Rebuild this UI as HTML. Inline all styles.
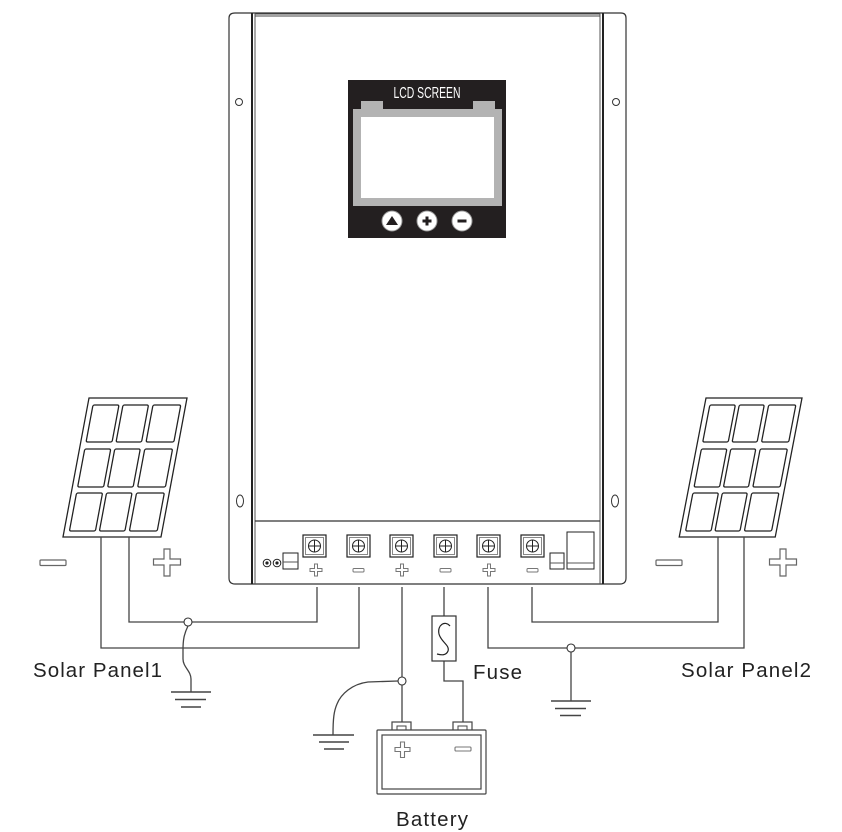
<!DOCTYPE html>
<html>
<head>
<meta charset="utf-8">
<style>
  html,body{margin:0;padding:0;background:#fff;}
  svg{display:block;}
  .t{font-family:"Liberation Sans",Arial,sans-serif;fill:#222;}
</style>
</head>
<body>
<svg width="842" height="832" viewBox="0 0 842 832" xmlns="http://www.w3.org/2000/svg">
  <rect width="842" height="832" fill="#fff"/>

  <!-- Controller body -->
  <path d="M235,13 H621 Q626,13 626,18 V578 Q626,584 620,584 H235 Q229,584 229,578 V18 Q229,13 235,13 Z" fill="#fff" stroke="#333" stroke-width="1.2"/>
  <line x1="252" y1="13" x2="252" y2="584" stroke="#222" stroke-width="2"/>
  <line x1="255" y1="13" x2="255" y2="584" stroke="#555" stroke-width="1"/>
  <line x1="600" y1="13" x2="600" y2="584" stroke="#555" stroke-width="1"/>
  <line x1="603" y1="13" x2="603" y2="584" stroke="#222" stroke-width="2"/>
  <line x1="255" y1="14" x2="600" y2="14" stroke="#444" stroke-width="1"/>
  <line x1="255" y1="16" x2="600" y2="16" stroke="#444" stroke-width="1"/>
  <line x1="255" y1="521" x2="600" y2="521" stroke="#333" stroke-width="1.2"/>

  <!-- mounting holes -->
  <circle cx="239" cy="102" r="3.5" fill="#fff" stroke="#333" stroke-width="1"/>
  <circle cx="616" cy="102" r="3.5" fill="#fff" stroke="#333" stroke-width="1"/>
  <ellipse cx="240" cy="501" rx="3.5" ry="6" fill="#fff" stroke="#333" stroke-width="1"/>
  <ellipse cx="615" cy="501" rx="3.5" ry="6" fill="#fff" stroke="#333" stroke-width="1"/>

  <!-- LCD -->
  <rect x="348" y="80" width="158" height="158" fill="#231f20"/>
  <text x="427" y="98" text-anchor="middle" font-family="Liberation Sans, sans-serif" font-size="16" fill="#fff" textLength="67" lengthAdjust="spacingAndGlyphs">LCD SCREEN</text>
  <rect x="361" y="101" width="22" height="9" fill="#b3b3b3"/>
  <rect x="473" y="101" width="22" height="9" fill="#b3b3b3"/>
  <rect x="353" y="109" width="149" height="97" fill="#b3b3b3"/>
  <rect x="361" y="117" width="133" height="81" fill="#fff"/>
  <!-- buttons -->
  <circle cx="392" cy="221" r="10" fill="#fff" stroke="#999" stroke-width="1"/>
  <circle cx="427" cy="221" r="10" fill="#fff" stroke="#999" stroke-width="1"/>
  <circle cx="462" cy="221" r="10" fill="#fff" stroke="#999" stroke-width="1"/>
  <polygon points="386,225 398,225 392,216" fill="#231f20"/>
  <rect x="422.5" y="219.5" width="9" height="3" fill="#231f20"/>
  <rect x="425.5" y="216.5" width="3" height="9" fill="#231f20"/>
  <rect x="457.5" y="219.5" width="9" height="3" fill="#231f20"/>

  <!-- Terminal block -->
  <g stroke-width="1">
    <circle cx="267" cy="563" r="3.8" fill="#fff" stroke="#222"/>
    <circle cx="267" cy="563" r="1.6" fill="#222"/>
    <circle cx="277" cy="563" r="3.8" fill="#fff" stroke="#222"/>
    <circle cx="277" cy="563" r="1.6" fill="#222"/>
    <rect x="283" y="553" width="15" height="16" fill="#fff" stroke="#222"/>
    <line x1="283" y1="562" x2="298" y2="562" stroke="#555"/>
    <rect x="550" y="553" width="14" height="16" fill="#fff" stroke="#222"/>
    <line x1="550" y1="563" x2="564" y2="563" stroke="#555"/>
    <rect x="567" y="532" width="27" height="37" fill="#fff" stroke="#222"/>
    <line x1="567" y1="563" x2="594" y2="563" stroke="#555"/>
  </g>

  <g fill="#fff">
    <g transform="translate(303,535)">
      <rect x="0" y="0" width="23" height="22" stroke="#222" stroke-width="1.2"/>
      <rect x="2.5" y="2.5" width="18" height="17" stroke="#888" stroke-width="1"/>
      <circle cx="11.5" cy="11" r="6" stroke="#222" stroke-width="1"/>
      <line x1="5.5" y1="11" x2="17.5" y2="11" stroke="#222"/>
      <line x1="11.5" y1="5" x2="11.5" y2="17" stroke="#222"/>
    </g>
    <g transform="translate(347,535)">
      <rect x="0" y="0" width="23" height="22" stroke="#222" stroke-width="1.2"/>
      <rect x="2.5" y="2.5" width="18" height="17" stroke="#888" stroke-width="1"/>
      <circle cx="11.5" cy="11" r="6" stroke="#222" stroke-width="1"/>
      <line x1="5.5" y1="11" x2="17.5" y2="11" stroke="#222"/>
      <line x1="11.5" y1="5" x2="11.5" y2="17" stroke="#222"/>
    </g>
    <g transform="translate(390,535)">
      <rect x="0" y="0" width="23" height="22" stroke="#222" stroke-width="1.2"/>
      <rect x="2.5" y="2.5" width="18" height="17" stroke="#888" stroke-width="1"/>
      <circle cx="11.5" cy="11" r="6" stroke="#222" stroke-width="1"/>
      <line x1="5.5" y1="11" x2="17.5" y2="11" stroke="#222"/>
      <line x1="11.5" y1="5" x2="11.5" y2="17" stroke="#222"/>
    </g>
    <g transform="translate(434,535)">
      <rect x="0" y="0" width="23" height="22" stroke="#222" stroke-width="1.2"/>
      <rect x="2.5" y="2.5" width="18" height="17" stroke="#888" stroke-width="1"/>
      <circle cx="11.5" cy="11" r="6" stroke="#222" stroke-width="1"/>
      <line x1="5.5" y1="11" x2="17.5" y2="11" stroke="#222"/>
      <line x1="11.5" y1="5" x2="11.5" y2="17" stroke="#222"/>
    </g>
    <g transform="translate(477,535)">
      <rect x="0" y="0" width="23" height="22" stroke="#222" stroke-width="1.2"/>
      <rect x="2.5" y="2.5" width="18" height="17" stroke="#888" stroke-width="1"/>
      <circle cx="11.5" cy="11" r="6" stroke="#222" stroke-width="1"/>
      <line x1="5.5" y1="11" x2="17.5" y2="11" stroke="#222"/>
      <line x1="11.5" y1="5" x2="11.5" y2="17" stroke="#222"/>
    </g>
    <g transform="translate(521,535)">
      <rect x="0" y="0" width="23" height="22" stroke="#222" stroke-width="1.2"/>
      <rect x="2.5" y="2.5" width="18" height="17" stroke="#888" stroke-width="1"/>
      <circle cx="11.5" cy="11" r="6" stroke="#222" stroke-width="1"/>
      <line x1="5.5" y1="11" x2="17.5" y2="11" stroke="#222"/>
      <line x1="11.5" y1="5" x2="11.5" y2="17" stroke="#222"/>
    </g>
  </g>

  <!-- small +/- under terminals -->
  <g fill="#fff" stroke="#777" stroke-width="1">
    <path d="M314.5,564 h3 v4.5 h4.5 v3 h-4.5 v4.5 h-3 v-4.5 h-4.5 v-3 h4.5 z"/>
    <rect x="353" y="568.5" width="11" height="3.5" rx="1"/>
    <path d="M400.5,564 h3 v4.5 h4.5 v3 h-4.5 v4.5 h-3 v-4.5 h-4.5 v-3 h4.5 z"/>
    <rect x="440" y="568.5" width="11" height="3.5" rx="1"/>
    <path d="M487.5,564 h3 v4.5 h4.5 v3 h-4.5 v4.5 h-3 v-4.5 h-4.5 v-3 h4.5 z"/>
    <rect x="527" y="568.5" width="11" height="3.5" rx="1"/>
  </g>

  <!-- Solar panel 1 -->
  <g transform="translate(89,398) skewX(-10.6)" fill="#fff" stroke="#222" stroke-width="1.3">
    <rect x="0" y="0" width="98" height="139"/>
    <rect x="5.3" y="7" width="26" height="37" rx="1.5"/>
    <rect x="35.3" y="7" width="25.5" height="37" rx="1.5"/>
    <rect x="65.3" y="7" width="27.8" height="37" rx="1.5"/>
    <rect x="5.3" y="51" width="26" height="38" rx="1.5"/>
    <rect x="35.3" y="51" width="25.5" height="38" rx="1.5"/>
    <rect x="65.3" y="51" width="27.8" height="38" rx="1.5"/>
    <rect x="5.3" y="95" width="26" height="38" rx="1.5"/>
    <rect x="35.3" y="95" width="25.5" height="38" rx="1.5"/>
    <rect x="65.3" y="95" width="27.8" height="38" rx="1.5"/>
  </g>
  <!-- Solar panel 2 -->
  <g transform="translate(706,398) skewX(-10.9)" fill="#fff" stroke="#222" stroke-width="1.3">
    <rect x="0" y="0" width="96" height="139"/>
    <rect x="5.2" y="7" width="25.5" height="37" rx="1.5"/>
    <rect x="34.6" y="7" width="25" height="37" rx="1.5"/>
    <rect x="64" y="7" width="27.2" height="37" rx="1.5"/>
    <rect x="5.2" y="51" width="25.5" height="38" rx="1.5"/>
    <rect x="34.6" y="51" width="25" height="38" rx="1.5"/>
    <rect x="64" y="51" width="27.2" height="38" rx="1.5"/>
    <rect x="5.2" y="95" width="25.5" height="38" rx="1.5"/>
    <rect x="34.6" y="95" width="25" height="38" rx="1.5"/>
    <rect x="64" y="95" width="27.2" height="38" rx="1.5"/>
  </g>

  <!-- big +/- signs near panels -->
  <g fill="#fff" stroke="#666" stroke-width="1.2">
    <rect x="40" y="560" width="26" height="5.5" rx="1"/>
    <path d="M164,549 h6 v10 h10.5 v6 h-10.5 v11 h-6 v-11 h-10.5 v-6 h10.5 z"/>
    <rect x="656" y="560" width="26" height="5.5" rx="1"/>
    <path d="M780,549 h6 v10 h10.5 v6 h-10.5 v11 h-6 v-11 h-10.5 v-6 h10.5 z"/>
  </g>

  <!-- Wires -->
  <g fill="none" stroke="#444" stroke-width="1.3">
    <polyline points="129,537 129,622 317,622 317,587"/>
    <polyline points="101,537 101,648 359,648 359,587"/>
    <polyline points="532,587 532,622 718,622 718,537"/>
    <polyline points="488,587 488,648 744,648 744,537"/>
    <line x1="402" y1="587" x2="402" y2="677"/>
    <line x1="402" y1="685" x2="402" y2="722"/>
    <line x1="444" y1="587" x2="444" y2="616"/>
    <polyline points="444,661 444,681 463,681 463,722"/>
    <path d="M188,626 C184,634 183,640 183,650 L183,659 C183,667 191,671 191,679 L191,692"/>
    <line x1="571" y1="652" x2="571" y2="701"/>
    <path d="M398,681 L368,682 C352,684 341,694 337,704 C334,711 333,718 333,735"/>
  </g>
  <!-- junction circles -->
  <g fill="#fff" stroke="#333" stroke-width="1.1">
    <circle cx="188" cy="622" r="4"/>
    <circle cx="571" cy="648" r="4"/>
    <circle cx="402" cy="681" r="4"/>
  </g>
  <!-- ground symbols -->
  <g stroke="#444" stroke-width="1.4">
    <line x1="171" y1="692" x2="211" y2="692"/>
    <line x1="175" y1="699.5" x2="206" y2="699.5"/>
    <line x1="181" y1="707" x2="201" y2="707"/>
    <line x1="551" y1="701" x2="591" y2="701"/>
    <line x1="555" y1="708.5" x2="586" y2="708.5"/>
    <line x1="560" y1="715.5" x2="581" y2="715.5"/>
    <line x1="313" y1="735" x2="354" y2="735"/>
    <line x1="319" y1="742" x2="349" y2="742"/>
    <line x1="324" y1="749" x2="344" y2="749"/>
  </g>

  <!-- Fuse -->
  <rect x="432" y="616" width="24" height="45" fill="#fff" stroke="#333" stroke-width="1.2"/>
  <path d="M450,626 C445,620 437,625 439,634 C441,642 450,645 448,651 C446,656 441,655 437,654" fill="none" stroke="#222" stroke-width="1.2"/>

  <!-- Battery -->
  <g fill="#fff" stroke="#444" stroke-width="1.2">
    <rect x="392" y="722" width="19" height="9"/>
    <rect x="453" y="722" width="19" height="9"/>
    <rect x="397" y="726" width="9" height="4" stroke-width="1"/>
    <rect x="458" y="726" width="9" height="4" stroke-width="1"/>
    <rect x="377" y="730" width="109" height="64" rx="1"/>
    <rect x="382" y="735" width="99" height="54"/>
  </g>
  <g fill="#fff" stroke="#777" stroke-width="1.1">
    <path d="M400.5,742 h4 v5.5 h5.5 v4 h-5.5 v6 h-4 v-6 h-5.5 v-4 h5.5 z"/>
    <rect x="455" y="747" width="16" height="4" rx="1"/>
  </g>

  <!-- Labels -->
  <text class="t" x="33" y="677" font-size="20.5" textLength="129" lengthAdjust="spacing">Solar Panel1</text>
  <text class="t" x="681" y="677" font-size="20.5" textLength="130" lengthAdjust="spacing">Solar Panel2</text>
  <text class="t" x="473" y="679" font-size="20.5" textLength="49" lengthAdjust="spacing">Fuse</text>
  <text class="t" x="396" y="826" font-size="20.5" textLength="72" lengthAdjust="spacing">Battery</text>
</svg>
</body>
</html>
